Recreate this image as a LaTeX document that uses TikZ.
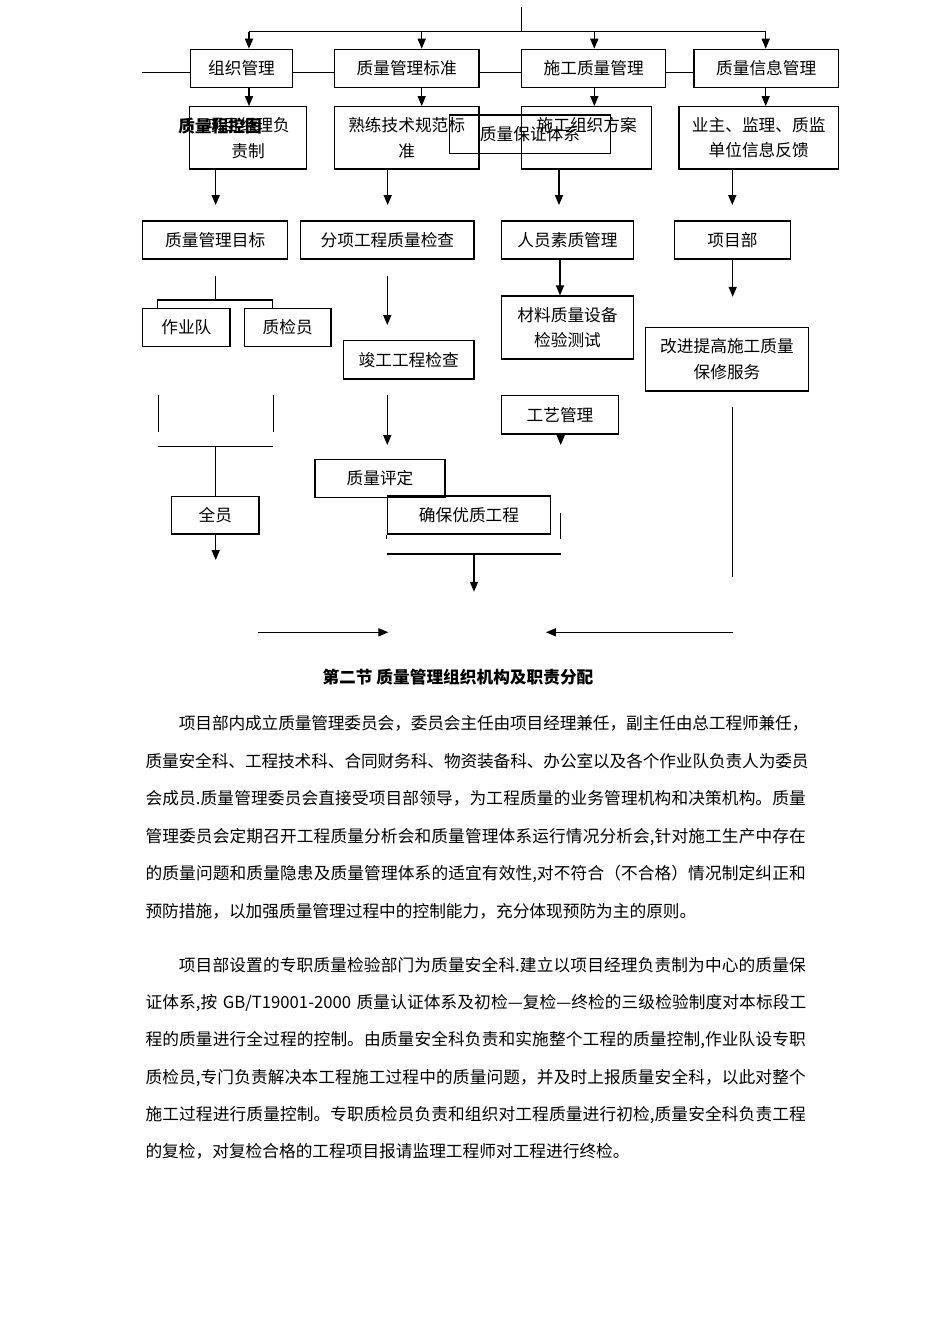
\documentclass[tikz,border=0pt]{standalone}
\usepackage{fontspec}
\setmainfont{Noto Sans CJK SC}
\usetikzlibrary{arrows.meta}
\XeTeXlinebreaklocale "zh"
\XeTeXlinebreakskip=0pt plus 1pt minus 0.2pt
\newdimen\px \px=0.2211mm
\tikzset{
  box/.style={draw, line width=0.8pt, inner sep=0pt, align=center},
  arr/.style={-{Triangle[length=2.2mm,width=1.8mm]}},
  txtline/.style={anchor=base west, inner sep=0pt, text width=663\px,
    execute at begin node={\parfillskip=0pt\relax}},
  lastline/.style={anchor=base west, inner sep=0pt},
}
\begin{document}
\begin{tikzpicture}[x=0.2211mm, y=-0.2211mm, line width=0.7pt,
  font=\fontsize{10.5pt}{16.2pt}\selectfont]
\useasboundingbox (0,0) rectangle (950,1344);

% first row
\node[box, minimum width=101.6\px, minimum height=38\px] (zz) at (241.5,68.3) {组织管理};
\node[box, minimum width=144.7\px, minimum height=38\px] (bz) at (406.7,68.3) {质量管理标准};
\node[box, minimum width=144\px, minimum height=38\px] (sg) at (593.7,68.3) {施工质量管理};
\node[box, minimum width=144.3\px, minimum height=38\px] (xx) at (766.2,68.3) {质量信息管理};

% second row
\node[box, minimum width=117.4\px, minimum height=62.3\px] (xm) at (248,137.8) {项目经理负\\责制};
\node[box, minimum width=144.7\px, minimum height=62.3\px] (sl) at (406.7,137.8) {熟练技术规范标\\准};
\node[box, minimum width=130\px, minimum height=62.3\px] (fa) at (586.7,137.8) {施工组织方案\\\phantom{施工}};
\node[box, minimum width=159.3\px, minimum height=62.3\px] (yz) at (758.7,137.8) {业主、监理、质监\\单位信息反馈};
\node[box, minimum width=161.4\px, minimum height=38.3\px] (bx) at (530,134.2) {质量保证体系};
\node[font=\fontsize{10.5pt}{16pt}\selectfont\bfseries, inner sep=0pt] (kt) at (220,126) {质量程控图};

% third row
\node[box, minimum width=145\px, minimum height=38\px] (mb) at (215.2,240) {质量管理目标};
\node[box, minimum width=173.3\px, minimum height=38\px] (fx) at (387.4,240) {分项工程质量检查};
\node[box, minimum width=131.6\px, minimum height=38\px] (ry) at (567.5,240) {人员素质管理};
\node[box, minimum width=116.4\px, minimum height=38\px] (xmb) at (732.5,240) {项目部};

% lower boxes
\node[box, minimum width=87.3\px, minimum height=38.4\px] (zyd) at (186.4,327.5) {作业队};
\node[box, minimum width=86.7\px, minimum height=38.4\px] (zjy) at (287.7,327.5) {质检员};
\node[box, minimum width=130.7\px, minimum height=38.3\px] (jg) at (408.7,359.9) {竣工工程检查};
\node[box, minimum width=131.6\px, minimum height=63\px] (cl) at (567.5,327.5) {材料质量设备\\检验测试};
\node[box, minimum width=162.6\px, minimum height=63.3\px] (gj) at (727,359.4) {改进提高施工质量\\保修服务};
\node[box, minimum width=116.6\px, minimum height=38.3\px] (gy) at (560,414.9) {工艺管理};
\node[box, minimum width=130\px, minimum height=38\px] (pd) at (380,478.3) {质量评定};
\node[box, minimum width=87.3\px, minimum height=37.3\px] (qy) at (215.4,515.4) {全员};
\node[box, minimum width=163.4\px, minimum height=38\px] (qb) at (469,515) {确保优质工程};

% feed from the top
\coordinate (t0) at (521.7,6.7);
\coordinate (t1) at (521.7,31.7);
\coordinate (h1) at (249,31.7);
\coordinate (h2) at (421.7,31.7);
\coordinate (h3) at (594.3,31.7);
\coordinate (h4) at (765.7,31.7);
\draw (t0) -- (t1);
\draw (h1) -- (h4);
\draw[arr] (h1) -- (h1 |- zz.north);
\draw[arr] (h2) -- (h2 |- bz.north);
\draw[arr] (h3) -- (h3 |- sg.north);
\draw[arr] (h4) -- (h4 |- xx.north);

% line through the first row
\coordinate (m0) at (141.7,72.3);
\draw (m0) -- (m0 -| zz.west);
\draw (zz.east |- m0) -- (bz.west |- m0);
\draw (bz.east |- m0) -- (sg.west |- m0);
\draw (sg.east |- m0) -- (xx.west |- m0);

% first row to second row
\draw[arr] (h1 |- zz.south) -- (h1 |- xm.north);
\draw[arr] (h2 |- bz.south) -- (h2 |- sl.north);
\draw[arr] (h3 |- sg.south) -- (h3 |- fa.north);
\draw[arr] (h4 |- xx.south) -- (h4 |- yz.north);

% second row, open arrows
\coordinate (a1) at (215.7,205);
\coordinate (a2) at (387.7,205);
\coordinate (a3) at (559,205);
\coordinate (a4) at (732.3,205);
\draw[arr] (a1 |- xm.south) -- (a1);
\draw[arr] (a2 |- sl.south) -- (a2);
\draw[arr] (a3 |- fa.south) -- (a3);
\draw[arr] (a4 |- yz.south) -- (a4);

% under the third row
\coordinate (b0) at (215.2,276);
\coordinate (b1) at (215.2,300);
\coordinate (bl) at (157.3,300);
\coordinate (br) at (272.7,300);
\draw (b0) -- (b1);
\draw (bl |- zyd.north) -- (bl) -- (br) -- (br |- zjy.north);
\coordinate (c0) at (387.3,276);
\coordinate (c1) at (387.3,325);
\draw[arr] (c0) -- (c1);
\draw[arr] (ry.south -| gy.center) -- (cl.north -| gy.center);
\coordinate (e1) at (732.7,296.7);
\draw[arr] (e1 |- xmb.south) -- (e1);

% left branch
\coordinate (f1) at (158.3,395);
\coordinate (f2) at (158.3,431.7);
\coordinate (f3) at (273.3,395);
\coordinate (f4) at (273.3,431.7);
\draw (f1) -- (f2);
\draw (f3) -- (f4);
\coordinate (g1) at (158,446.7);
\coordinate (g2) at (273.3,446.7);
\coordinate (g0) at (215.7,446.7);
\coordinate (g3) at (215.7,560);
\draw (g1) -- (g2);
\draw (g0) -- (g0 |- qy.north);
\draw[arr] (g3 |- qy.south) -- (g3);

% middle and right branches
\coordinate (k0) at (387.3,395);
\coordinate (k1) at (387.3,445);
\coordinate (k2) at (560.7,445);
\draw[arr] (k0) -- (k1);
\draw[arr] (k2 |- gy.south) -- (k2);
\coordinate (n0) at (732.7,407.3);
\coordinate (n1) at (732.7,576.7);
\draw (n0) -- (n1);

% gathering under the result
\draw (qb.south west) -- ++(0,4.3);
\coordinate (q0) at (560.7,513);
\coordinate (q1) at (560.7,539.3);
\coordinate (q2) at (387.3,554);
\coordinate (q3) at (560.7,554);
\coordinate (q4) at (474,554);
\coordinate (q5) at (474,591.7);
\draw (q0) -- (q1);
\draw (q2) -- (q3);
\draw[arr] (q4) -- (q5);

% bottom arrows
\coordinate (r0) at (258.3,632.3);
\coordinate (r1) at (388.3,632.3);
\coordinate (r2) at (732.7,632.3);
\coordinate (r3) at (546,632.3);
\draw[arr] (r0) -- (r1);
\draw[arr] (r2) -- (r3);

% text of the section
\node[lastline, font=\fontsize{10.5pt}{16pt}\selectfont\bfseries] (jt) at (322,683.4) {第二节 质量管理组织机构及职责分配};

\node[txtline] (p1a) at (145,729.4) {\hspace*{2em}项目部内成立质量管理委员会，委员会主任由项目经理兼任，副主任由总工程师兼任，};
\node[txtline] (p1b) at (145,767) {质量安全科、工程技术科、合同财务科、物资装备科、办公室以及各个作业队负责人为委员};
\node[txtline] (p1c) at (145,804.6) {会成员.质量管理委员会直接受项目部领导，为工程质量的业务管理机构和决策机构。质量};
\node[txtline] (p1d) at (145,842.2) {管理委员会定期召开工程质量分析会和质量管理体系运行情况分析会,针对施工生产中存在};
\node[txtline] (p1e) at (145,879.8) {的质量问题和质量隐患及质量管理体系的适宜有效性,对不符合（不合格）情况制定纠正和};
\node[lastline] (p1f) at (145,917.4) {预防措施，以加强质量管理过程中的控制能力，充分体现预防为主的原则。};

\node[txtline] (p2a) at (145,971.4) {\hspace*{2em}项目部设置的专职质量检验部门为质量安全科.建立以项目经理负责制为中心的质量保};
\node[txtline] (p2b) at (145,1008.6) {证体系,按 GB/T19001-2000 质量认证体系及初检—复检—终检的三级检验制度对本标段工};
\node[txtline] (p2c) at (145,1045.8) {程的质量进行全过程的控制。由质量安全科负责和实施整个工程的质量控制,作业队设专职};
\node[txtline] (p2d) at (145,1083) {质检员,专门负责解决本工程施工过程中的质量问题，并及时上报质量安全科，以此对整个};
\node[txtline] (p2e) at (145,1120.2) {施工过程进行质量控制。专职质检员负责和组织对工程质量进行初检,质量安全科负责工程};
\node[lastline] (p2f) at (145,1157.4) {的复检，对复检合格的工程项目报请监理工程师对工程进行终检。};
\end{tikzpicture}
\end{document}
